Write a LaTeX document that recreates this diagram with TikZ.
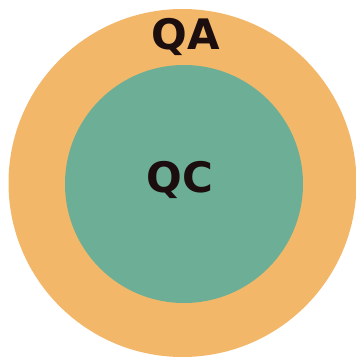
\documentclass[tikz,border=0pt]{standalone}
\usepackage{fontspec}
\setmainfont{DejaVu Sans}
\usetikzlibrary{positioning}
\definecolor{assure}{RGB}{243,183,106}
\definecolor{control}{RGB}{108,175,150}
\definecolor{ink}{RGB}{28,14,14}

\begin{document}
\begin{tikzpicture}[x=1pt,y=-1pt]
\useasboundingbox (0,0) rectangle (356,357);
\fill[assure] (182.5,183) circle (174);
\fill[control] (184,184) circle (119);
\node[font=\fontsize{42}{42}\selectfont\bfseries,ink] (qa) at (186,37) {QA};
\node[font=\fontsize{42}{42}\selectfont\bfseries,ink] (qc) at (180,180) {QC};
\end{tikzpicture}
\end{document}
